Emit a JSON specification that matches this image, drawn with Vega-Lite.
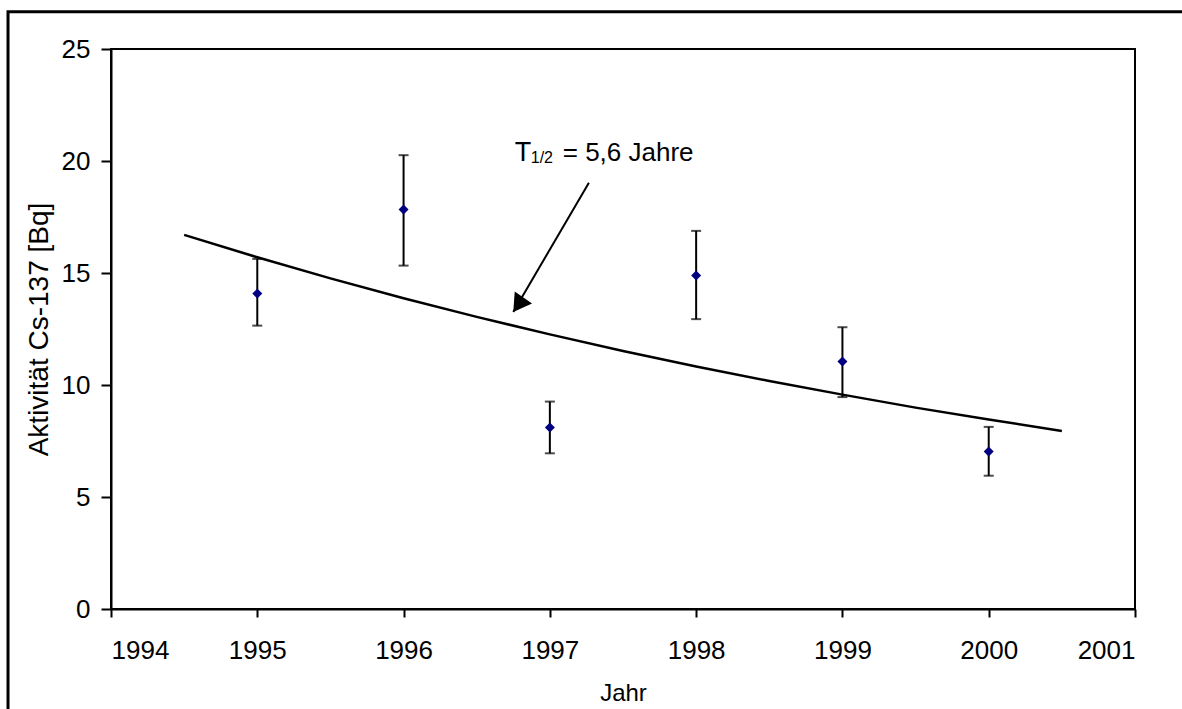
{
  "$schema": "https://vega.github.io/schema/vega-lite/v6.json",
  "width": 1024,
  "height": 560,
  "autosize": {"type": "none"},
  "padding": {"left": 111, "top": 49, "right": 47, "bottom": 100},
  "background": "white",
  "config": {
    "view": {"stroke": "black", "strokeWidth": 2},
    "font": "Liberation Sans",
    "axis": {
      "grid": false,
      "domainColor": "black",
      "domainWidth": 2,
      "tickColor": "black",
      "tickWidth": 2,
      "labelColor": "black",
      "labelFont": "Liberation Sans",
      "labelFontSize": 26,
      "titleFont": "Liberation Sans",
      "titleFontSize": 26,
      "titleFontWeight": "normal",
      "titleColor": "black"
    }
  },
  "datasets": {
    "meas": [
      {"Jahr": 1995, "A": 14.08, "lo": 12.65, "hi": 15.63},
      {"Jahr": 1996, "A": 17.83, "lo": 15.33, "hi": 20.26},
      {"Jahr": 1997, "A": 8.10, "lo": 6.95, "hi": 9.26},
      {"Jahr": 1998, "A": 14.89, "lo": 12.94, "hi": 16.88},
      {"Jahr": 1999, "A": 11.05, "lo": 9.46, "hi": 12.58},
      {"Jahr": 2000, "A": 7.03, "lo": 5.95, "hi": 8.13}
    ],
    "fit": [
      {"Jahr": 1994.5, "A": 16.70},
      {"Jahr": 1995.0, "A": 15.70},
      {"Jahr": 1995.5, "A": 14.76},
      {"Jahr": 1996.0, "A": 13.87},
      {"Jahr": 1996.5, "A": 13.04},
      {"Jahr": 1997.0, "A": 12.26},
      {"Jahr": 1997.5, "A": 11.52},
      {"Jahr": 1998.0, "A": 10.83},
      {"Jahr": 1998.5, "A": 10.18},
      {"Jahr": 1999.0, "A": 9.57},
      {"Jahr": 1999.5, "A": 8.99},
      {"Jahr": 2000.0, "A": 8.46},
      {"Jahr": 2000.5, "A": 7.95}
    ],
    "arrow": [
      {"x": 1997.267, "y": 19.03, "x2": 1996.75, "y2": 13.26}
    ],
    "note": [
      {"x": 1996.76, "y": 20.0}
    ]
  },
  "layer": [
    {
      "data": {"name": "fit"},
      "mark": {"type": "line", "color": "black", "strokeWidth": 2.5},
      "encoding": {
        "x": {
          "field": "Jahr", "type": "quantitative",
          "scale": {"domain": [1994, 2001], "nice": false, "zero": false},
          "axis": {
            "values": [1994, 1995, 1996, 1997, 1998, 1999, 2000, 2001],
            "format": "d",
            "tickSize": 8,
            "labelPadding": 20,
            "title": "Jahr",
            "titleFontSize": 24,
            "titlePadding": 18
          }
        },
        "y": {
          "field": "A", "type": "quantitative",
          "scale": {"domain": [0, 25], "nice": false},
          "axis": {
            "values": [0, 5, 10, 15, 20, 25],
            "tickSize": 10,
            "labelPadding": 11,
            "title": "Aktivität Cs-137 [Bq]",
            "titleFontSize": 28,
            "titlePadding": 8
          }
        }
      }
    },
    {
      "data": {"name": "meas"},
      "mark": {"type": "rule", "color": "black", "strokeWidth": 2},
      "encoding": {
        "x": {"field": "Jahr", "type": "quantitative"},
        "y": {"field": "lo", "type": "quantitative"},
        "y2": {"field": "hi"}
      }
    },
    {
      "data": {"name": "meas"},
      "mark": {"type": "tick", "orient": "horizontal", "color": "black", "size": 10, "thickness": 2},
      "encoding": {
        "x": {"field": "Jahr", "type": "quantitative"},
        "y": {"field": "lo", "type": "quantitative"}
      }
    },
    {
      "data": {"name": "meas"},
      "mark": {"type": "tick", "orient": "horizontal", "color": "black", "size": 10, "thickness": 2},
      "encoding": {
        "x": {"field": "Jahr", "type": "quantitative"},
        "y": {"field": "hi", "type": "quantitative"}
      }
    },
    {
      "data": {"name": "meas"},
      "mark": {"type": "point", "shape": "diamond", "filled": true, "color": "#000080", "size": 100, "opacity": 1},
      "encoding": {
        "x": {"field": "Jahr", "type": "quantitative"},
        "y": {"field": "A", "type": "quantitative"}
      }
    },
    {
      "data": {"name": "arrow"},
      "mark": {"type": "rule", "color": "black", "strokeWidth": 2},
      "encoding": {
        "x": {"field": "x", "type": "quantitative"},
        "y": {"field": "y", "type": "quantitative"},
        "x2": {"field": "x2"},
        "y2": {"field": "y2"}
      }
    },
    {
      "data": {"name": "arrow"},
      "mark": {"type": "point", "shape": "M0,0L-0.6,1L0.6,1Z", "filled": true, "color": "black", "size": 1240, "angle": 215, "opacity": 1},
      "encoding": {
        "x": {"field": "x2", "type": "quantitative"},
        "y": {"field": "y2", "type": "quantitative"}
      }
    },
    {
      "data": {"name": "note"},
      "mark": {"type": "text", "text": "T", "align": "left", "baseline": "alphabetic", "fontSize": 27, "font": "Liberation Sans", "color": "black"},
      "encoding": {
        "x": {"field": "x", "type": "quantitative"},
        "y": {"field": "y", "type": "quantitative"}
      }
    },
    {
      "data": {"name": "note"},
      "mark": {"type": "text", "text": "1/2", "align": "left", "baseline": "alphabetic", "fontSize": 16, "dx": 16, "dy": 2, "font": "Liberation Sans", "color": "black"},
      "encoding": {
        "x": {"field": "x", "type": "quantitative"},
        "y": {"field": "y", "type": "quantitative"}
      }
    },
    {
      "data": {"name": "note"},
      "mark": {"type": "text", "text": "= 5,6 Jahre", "align": "left", "baseline": "alphabetic", "fontSize": 26, "dx": 48, "font": "Liberation Sans", "color": "black"},
      "encoding": {
        "x": {"field": "x", "type": "quantitative"},
        "y": {"field": "y", "type": "quantitative"}
      }
    },
    {
      "data": {"values": [{}]},
      "mark": {"type": "rect", "fillOpacity": 0, "stroke": "black", "strokeWidth": 3, "clip": false},
      "encoding": {
        "x": {"datum": 1993.296, "type": "quantitative"},
        "x2": {"datum": 2001.7},
        "y": {"datum": 26.66, "type": "quantitative"},
        "y2": {"datum": -6}
      }
    }
  ]
}
